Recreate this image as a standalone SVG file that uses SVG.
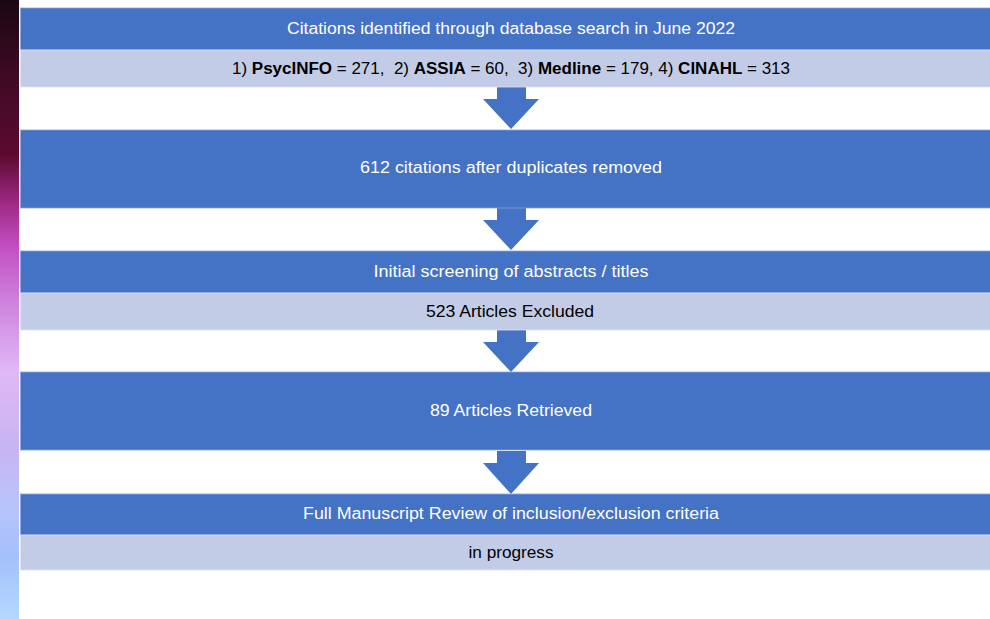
<svg xmlns="http://www.w3.org/2000/svg" width="990" height="619" viewBox="0 0 990 619">
<defs>
<linearGradient id="strip" x1="0" y1="0" x2="0" y2="1">
<stop offset="0" stop-color="#1a0812"/>
<stop offset="0.12" stop-color="#3e0a24"/>
<stop offset="0.25" stop-color="#5c0a30"/>
<stop offset="0.33" stop-color="#a02a86"/>
<stop offset="0.40" stop-color="#c250c2"/>
<stop offset="0.50" stop-color="#cf88e0"/>
<stop offset="0.60" stop-color="#e0b8f6"/>
<stop offset="0.72" stop-color="#c8b4f2"/>
<stop offset="0.82" stop-color="#b8c4fc"/>
<stop offset="0.90" stop-color="#a4c0fa"/>
<stop offset="1" stop-color="#b4d8ff"/>
</linearGradient>
<style>
.hd{fill:#4472c4;stroke:#8ea6d9;stroke-width:0.8}
.sb{fill:#c3cce6;stroke:#dfe4f2;stroke-width:0.8}
.ar{fill:#4472c4}
.tw{font-family:"Liberation Sans",Arial,sans-serif;font-size:16px;fill:#ffffff;text-anchor:middle}
.tb{font-family:"Liberation Sans",Arial,sans-serif;font-size:16px;fill:#000000;text-anchor:middle;white-space:pre}
.b{font-weight:bold}
</style>
</defs>
<rect x="0" y="0" width="990" height="619" fill="#ffffff"/>
<rect x="0" y="0" width="19" height="619" fill="url(#strip)"/>

<g id="connectors">
<polygon class="ar" points="497,87 526,87 526,99 539,99 511,129 483,99 497,99"/>
<polygon class="ar" points="497,208 526,208 526,220 539,220 511,250 483,220 497,220"/>
<polygon class="ar" points="497,330 526,330 526,342 539,342 511,372 483,342 497,342"/>
<polygon class="ar" points="497,451 526,451 526,463 539,463 511,494 483,463 497,463"/>
</g>

<g id="node1">
<rect class="hd" x="20.5" y="8" width="975" height="42"/>
<rect class="sb" x="20.5" y="50" width="975" height="37"/>
<text class="tw" x="511" y="34" textLength="448" lengthAdjust="spacingAndGlyphs">Citations identified through database search in June 2022</text>
<text class="tb" x="511" y="74" textLength="558" lengthAdjust="spacingAndGlyphs" xml:space="preserve">1) <tspan class="b">PsycINFO</tspan> = 271,&#160; 2) <tspan class="b">ASSIA</tspan> = 60,&#160; 3) <tspan class="b">Medline</tspan> = 179, 4) <tspan class="b">CINAHL</tspan> = 313</text>
</g>

<g id="node2">
<rect class="hd" x="20.5" y="130" width="975" height="78"/>
<text class="tw" x="511" y="173" textLength="302" lengthAdjust="spacingAndGlyphs">612 citations after duplicates removed</text>
</g>

<g id="node3">
<rect class="hd" x="20.5" y="251" width="975" height="42"/>
<rect class="sb" x="20.5" y="293" width="975" height="37"/>
<text class="tw" x="511" y="277" textLength="275" lengthAdjust="spacingAndGlyphs">Initial screening of abstracts / titles</text>
<text class="tb" x="510" y="317" textLength="168" lengthAdjust="spacingAndGlyphs">523 Articles Excluded</text>
</g>

<g id="node4">
<rect class="hd" x="20.5" y="372" width="975" height="78"/>
<text class="tw" x="511" y="416" textLength="162" lengthAdjust="spacingAndGlyphs">89 Articles Retrieved</text>
</g>

<g id="node5">
<rect class="hd" x="20.5" y="494" width="975" height="41"/>
<rect class="sb" x="20.5" y="535" width="975" height="35"/>
<text class="tw" x="511" y="519" textLength="416" lengthAdjust="spacingAndGlyphs">Full Manuscript Review of inclusion/exclusion criteria</text>
<text class="tb" x="511" y="558" textLength="85" lengthAdjust="spacingAndGlyphs">in progress</text>
</g>
</svg>
